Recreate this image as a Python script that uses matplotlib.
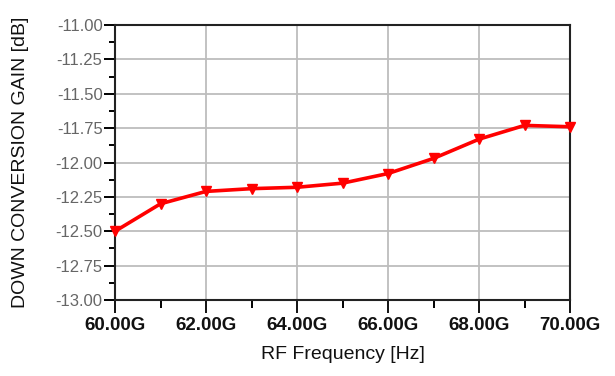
import matplotlib
matplotlib.use("Agg")
from matplotlib import pyplot as plt
from matplotlib.ticker import MultipleLocator, FuncFormatter

# RF sweep, 60-70 GHz
freq_ghz = [60, 61, 62, 63, 64, 65, 66, 67, 68, 69, 70]
gain_db = [-12.50, -12.30, -12.21, -12.19, -12.18, -12.15,
           -12.08, -11.97, -11.83, -11.73, -11.74]

plt.rcParams['font.family'] = ['Liberation Sans', 'DejaVu Sans']

fig = plt.figure(figsize=(6.15, 3.76), dpi=100)
ax = fig.add_axes([0.187, 0.202, 0.740, 0.7315])

ax.plot(freq_ghz, gain_db, color='#ff0000', lw=2.6, marker='v',
        markersize=6.5, markeredgecolor='#ff0000', clip_on=False, zorder=3)

ax.set_xlim(60, 70)
ax.set_ylim(-13, -11)

ax.xaxis.set_major_locator(MultipleLocator(2))
ax.xaxis.set_minor_locator(MultipleLocator(1))
ax.yaxis.set_major_locator(MultipleLocator(0.25))
ax.yaxis.set_minor_locator(MultipleLocator(0.125))

ax.xaxis.set_major_formatter(FuncFormatter(lambda v, p: f"{v:.2f}G"))
ax.yaxis.set_major_formatter(FuncFormatter(lambda v, p: f"{v:.2f}"))

ax.grid(True, which='major', color='#bdbdbd', lw=1.3)
ax.set_axisbelow(True)

for s in ax.spines.values():
    s.set_linewidth(1.5)
    s.set_color('#222222')

ax.tick_params(axis='x', which='major', length=9, width=1.4, pad=3,
               labelsize=13.5, colors='#111111')
ax.tick_params(axis='x', which='minor', length=6, width=1.4)
ax.tick_params(axis='y', which='major', length=8, width=1.4, pad=1,
               labelsize=12, labelcolor='#666666')
ax.tick_params(axis='y', which='minor', length=4.5, width=1.4)
for lbl in ax.get_xticklabels():
    lbl.set_fontweight('bold')

ax.set_xlabel('RF Frequency [Hz]', fontsize=14, labelpad=9, color='#111111')
ax.set_ylabel('DOWN CONVERSION GAIN [dB]', fontsize=14, labelpad=19,
              color='#111111')

fig.savefig('out.png', dpi=100)
